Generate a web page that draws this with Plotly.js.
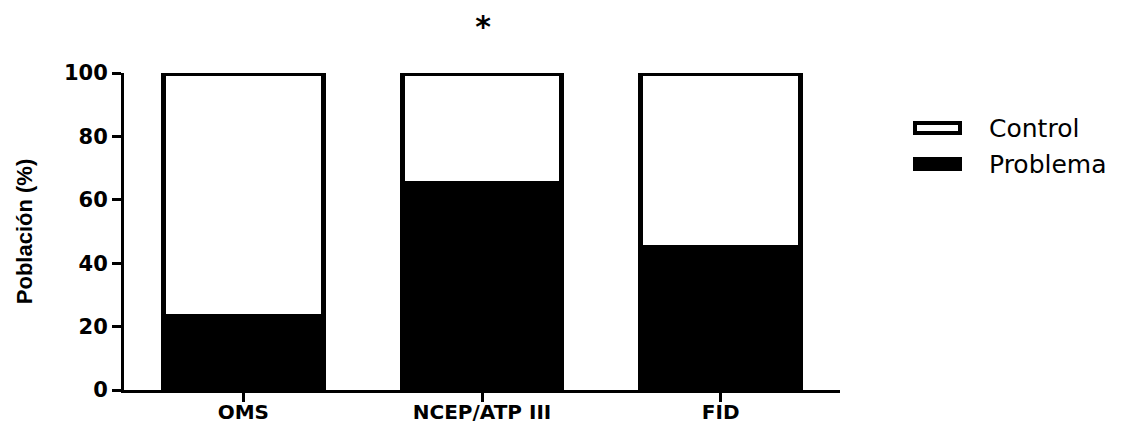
<!DOCTYPE html>
<html>
<head>
<meta charset="utf-8">
<script src="https://cdn.plot.ly/plotly-3.0.1.min.js"></script>
<style>html,body{margin:0;padding:0;background:#fff}#chart{width:1122px;height:423px}</style>
</head>
<body>
<div id="chart"></div>
<script>
var categories = ["OMS", "NCEP/ATP III", "FID"];
var problema = [23.2, 65.2, 44.9];
var control = [76.8, 34.8, 55.1];
var seriesNames = ["Control", "Problema"];
var yTicks = [0, 20, 40, 60, 80, 100];

var wide = "DejaVu Sans, Verdana, sans-serif";
var arial = "Liberation Sans, Arial, Helvetica, sans-serif";

var traces = [
  {type: "bar", name: seriesNames[1], x: categories, y: problema, width: 0.67,
   marker: {color: "#000000", line: {color: "#000000", width: 5}}, showlegend: false},
  {type: "bar", name: seriesNames[0], x: categories, y: control, width: 0.67,
   marker: {color: "#ffffff", line: {color: "#000000", width: 5}}, showlegend: false}
];

function px(x){ return (x - 124) / 716; }
function py(y){ return (390 - y) / 317; }

var layout = {
  width: 1122, height: 423,
  margin: {l: 124, r: 282, t: 73, b: 33, pad: 0},
  paper_bgcolor: "#ffffff", plot_bgcolor: "#ffffff",
  barmode: "stack",
  showlegend: false,
  title: {text: "*", x: px(483), xref: "paper", xanchor: "center", y: 1 - 26/423, yanchor: "middle",
          font: {family: wide, size: 30, color: "#000", weight: "bold"}},
  xaxis: {range: [-0.5, 2.5], showline: true, linewidth: 3, linecolor: "#000",
          ticks: "outside", ticklen: 9, tickwidth: 3, tickcolor: "#000",
          ticklabelstandoff: -7,
          showgrid: false, zeroline: false,
          tickfont: {family: wide, size: 20, color: "#000", weight: "bold"}},
  yaxis: {range: [0, 100], showline: true, linewidth: 3, linecolor: "#000",
          tickvals: yTicks, ticktext: yTicks.map(String),
          ticks: "outside", ticklen: 9, tickwidth: 3, tickcolor: "#000",
          showgrid: false, zeroline: false,
          tickfont: {family: wide, size: 21, color: "#000", weight: "bold"},
          title: {text: "Población (%)", standoff: 26,
                  font: {family: arial, size: 22, color: "#000", weight: "bold"}}},
  shapes: [
    {type: "rect", xref: "paper", yref: "paper", x0: px(915), x1: px(960), y0: py(133), y1: py(123),
     fillcolor: "#ffffff", line: {color: "#000", width: 4}},
    {type: "rect", xref: "paper", yref: "paper", x0: px(914), x1: px(961), y0: py(170), y1: py(158),
     fillcolor: "#000000", line: {color: "#000", width: 2}}
  ],
  annotations: [
    {text: seriesNames[0], xref: "paper", yref: "paper", x: px(987), y: py(128), xanchor: "left", yanchor: "middle",
     showarrow: false, font: {family: wide, size: 25, color: "#000"}},
    {text: seriesNames[1], xref: "paper", yref: "paper", x: px(987), y: py(164), xanchor: "left", yanchor: "middle",
     showarrow: false, font: {family: wide, size: 25, color: "#000"}}
  ]
};

Plotly.newPlot("chart", traces, layout, {displayModeBar: false, staticPlot: true});
</script>
</body>
</html>
